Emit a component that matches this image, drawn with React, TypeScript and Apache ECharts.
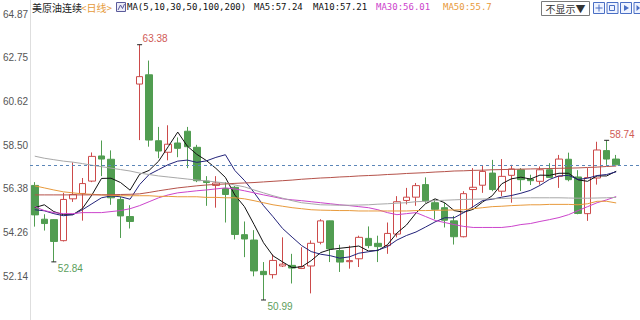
import React, { useEffect, useRef } from 'react';
import * as echarts from 'echarts';

const opens = [56.55,54.91,54.89,53.87,55.90,56.16,56.76,57.98,57.82,55.87,
55.04,61.47,61.92,58.72,58.16,58.61,59.18,58.40,56.76,56.55,
56.40,56.46,54.16,53.90,52.38,52.22,52.64,52.67,52.52,52.64,
53.79,54.83,53.39,52.85,52.99,53.98,53.74,53.63,54.19,55.82,
55.98,56.59,55.71,55.47,54.83,54.06,56.35,56.56,57.15,56.27,
57.04,57.31,56.86,56.75,57.31,56.99,57.82,56.96,55.18,56.91,
58.24,57.83];
const closes = [55.12,54.70,53.83,55.87,56.11,56.64,57.96,57.83,55.95,55.07,
54.80,61.83,58.75,58.22,58.55,58.35,58.43,56.78,56.69,56.67,
56.11,54.17,53.95,52.40,52.22,52.91,52.73,52.54,52.61,53.74,
54.83,53.47,52.83,52.90,54.03,53.63,53.58,54.22,55.76,55.98,
56.54,55.80,55.39,54.86,54.06,56.15,56.46,57.23,56.35,56.99,
57.35,56.83,56.78,57.31,56.94,57.83,56.83,55.19,56.93,58.27,
57.83,57.55];
const lows = [54.55,54.36,52.84,53.83,55.75,54.84,56.71,57.00,55.61,54.00,
54.46,58.75,58.43,57.87,57.77,57.92,57.39,56.71,55.56,55.47,
54.75,53.93,53.07,52.14,50.99,52.03,52.59,51.79,52.49,51.31,
53.69,52.83,52.35,52.51,52.59,53.50,52.83,53.23,54.03,55.63,
55.56,55.71,54.91,54.51,53.68,54.03,55.47,56.19,56.27,56.03,
55.71,56.28,56.57,56.59,56.91,56.43,56.75,55.15,54.83,56.59,
57.55,57.53];
const highs = [56.71,55.15,54.91,56.19,57.67,56.91,58.15,58.73,58.25,56.00,
55.59,63.38,62.61,59.39,59.47,58.88,59.39,58.52,57.00,57.00,
56.71,56.52,54.80,54.38,52.83,53.20,54.03,53.23,53.55,53.88,
54.91,54.84,53.67,53.63,54.11,54.56,54.11,54.75,56.03,56.43,
56.67,56.94,55.87,55.71,55.07,56.27,57.39,57.52,57.79,57.83,
57.55,57.39,57.07,57.47,57.63,58.03,58.14,57.29,57.39,58.67,
58.74,58.03];

const ma5 = [55.47,55.61,55.28,55.13,55.13,55.43,56.09,56.89,56.90,56.69,
56.32,57.09,57.28,57.73,58.43,59.14,58.46,58.06,57.76,57.38,
56.94,56.08,55.52,54.66,53.77,53.13,52.84,52.56,52.60,52.90,
53.29,53.44,53.50,53.55,53.61,53.37,53.39,53.67,54.24,54.63,
55.21,55.66,55.90,55.71,55.33,55.25,55.39,55.75,56.05,56.63,
56.87,56.95,56.86,57.05,57.04,57.14,57.14,56.82,56.75,57.01,
57.01,57.24];
const ma10 = [55.37,55.32,55.18,55.08,55.13,55.37,55.66,55.95,56.04,56.00,
55.88,56.59,57.08,57.32,57.56,57.73,57.78,57.67,57.74,57.91,
58.04,57.27,56.79,56.21,55.57,55.03,54.46,54.04,53.63,53.34,
53.21,53.14,53.02,53.08,53.26,53.33,53.41,53.58,53.90,54.12,
54.29,54.53,54.78,54.98,54.98,55.23,55.52,55.82,55.88,55.98,
56.06,56.17,56.31,56.55,56.84,57.01,57.04,56.84,56.90,57.03,
57.08,57.21];
const ma30 = [55.52,55.33,55.23,55.18,55.18,55.23,55.23,55.23,55.28,55.33,
55.42,55.57,55.76,55.95,56.09,56.19,56.24,56.29,56.33,56.38,
56.43,56.38,56.29,56.19,56.09,56.00,55.90,55.85,55.81,55.76,
55.71,55.66,55.61,55.57,55.52,55.47,55.37,55.23,55.13,55.18,
55.23,55.04,54.85,54.75,54.65,54.56,54.51,54.51,54.51,54.51,
54.56,54.65,54.70,54.80,54.89,54.99,55.13,55.33,55.52,55.71,
55.85,56.01];
const ma50 = [56.53,56.43,56.33,56.24,56.19,56.14,56.12,56.09,56.07,56.05,
56.05,56.05,56.05,56.02,56.02,56.00,56.00,56.00,55.97,55.97,
55.95,55.95,55.90,55.81,55.71,55.61,55.54,55.47,55.42,55.37,
55.35,55.34,55.33,55.33,55.31,55.31,55.31,55.31,55.31,55.31,
55.33,55.33,55.34,55.35,55.36,55.37,55.42,55.47,55.52,55.54,
55.57,55.59,55.61,55.61,55.63,55.63,55.63,55.61,55.66,55.78,
55.78,55.70];
const ma100 = [57.97,57.87,57.80,57.73,57.68,57.61,57.53,57.46,57.39,57.32,
57.25,57.15,57.08,57.01,56.96,56.91,56.86,56.81,56.77,56.72,
56.67,56.57,56.48,56.33,56.19,56.05,55.93,55.81,55.71,55.66,
55.61,55.60,55.59,55.59,55.60,55.61,55.64,55.66,55.69,55.71,
55.76,55.78,55.81,55.83,55.85,55.87,55.88,55.89,55.90,55.92,
55.93,55.94,55.95,55.95,55.95,55.95,55.94,55.93,55.93,55.94,
55.95,55.97];
const ma200 = [56.09,56.09,56.09,56.09,56.09,56.09,56.09,56.09,56.10,56.11,
56.12,56.14,56.21,56.29,56.36,56.43,56.48,56.53,56.57,56.60,
56.62,56.65,56.67,56.69,56.72,56.75,56.78,56.81,56.85,56.88,
56.91,56.93,56.96,56.98,57.01,57.03,57.05,57.08,57.10,57.13,
57.15,57.17,57.20,57.22,57.25,57.26,57.28,57.29,57.31,57.32,
57.33,57.34,57.35,57.36,57.37,57.38,57.39,57.40,57.42,57.44,
57.47,57.49];

const yTickLabels = ['52.14', '54.26', '56.38', '58.50', '60.62', '62.75', '64.87'];
const maNames = ['MA5', 'MA10', 'MA30', 'MA50', 'MA100', 'MA200'];
const maColors = ['#111111', '#23237a', '#cc44cc', '#e89a3c', '#a8a8a8', '#b5524a'];
const maSeries = [ma5, ma10, ma30, ma50, ma100, ma200];
const title = '美原油连续';
const period = '<日线>';
const maParams = 'MA(5,10,30,50,100,200)';
// [candle index, 'high' | 'low']
const annotations: [number, string][] = [[11, 'high'], [2, 'low'], [24, 'low'], [60, 'high']];

const RED = '#cc4a4a';
const GREEN = '#519d51';

function fmt(v: number) {
  return String(Number(v.toFixed(2)));
}

export default function App() {
  const ref = useRef<HTMLDivElement>(null);
  useEffect(() => {
    const chart = echarts.init(ref.current!, null, { renderer: 'svg' });
    const n = opens.length;
    const cats = Array.from({ length: n + 2 }, (_, i) => 'D' + (i + 1));
    const tickVals = yTickLabels.map((s) => parseFloat(s));
    const interval = (tickVals[tickVals.length - 1] - tickVals[0]) / (tickVals.length - 1);
    const yMin = tickVals[0] - interval;
    const yMax = 65.55;
    const kData = opens.map((o, i) => [o, closes[i], lows[i], highs[i]]);

    const markData = annotations.map(([i, kind]) => {
      const isHigh = kind === 'high';
      const v = isHigh ? highs[i] : lows[i];
      return {
        coord: [cats[i], v],
        value: v,
        label: {
          show: true,
          formatter: v.toFixed(2),
          position: 'inside',
          align: 'left',
          verticalAlign: 'middle',
          offset: isHigh ? [3, -6] : [4, 7],
          color: isHigh ? '#d05a55' : '#5c9e5c',
          fontSize: 10,
          fontFamily: 'Liberation Sans, Arial, sans-serif',
        },
      };
    });

    const mono = 'DejaVu Sans Mono, Liberation Mono, monospace';
    const headerMA = [0, 1, 2, 3].map((k) => ({
      text: maNames[k] + ':' + fmt(maSeries[k][maSeries[k].length - 1]),
      color: k < 2 ? '#111' : maColors[k],
    }));
    const headerX = [254, 313, 376, 443];

    const iconX = [593, 606.5, 620, 633.5];

    const graphic: any[] = [
      { type: 'text', x: 32, y: 7, style: { text: title, fill: '#222', font: '10px "Noto Sans CJK SC", sans-serif', verticalAlign: 'middle' } },
      { type: 'text', x: 81, y: 7, style: { text: period, fill: '#e69a3a', font: '10px "Noto Sans CJK SC", sans-serif', verticalAlign: 'middle' } },
      { type: 'rect', shape: { x: 116.5, y: 2.5, width: 9, height: 9 }, style: { fill: '#ececf8', stroke: '#5a5a9a', lineWidth: 1 } },
      { type: 'polyline', shape: { points: [[118, 10], [120.5, 5], [122.5, 8.5], [124.5, 4]] }, style: { stroke: '#5a5a9a', fill: 'none', lineWidth: 1 } },
      { type: 'text', x: 127, y: 7, style: { text: maParams, fill: '#111', font: '9px ' + mono, verticalAlign: 'middle' } },
      ...headerMA.map((h, k) => ({ type: 'text', x: headerX[k], y: 7, style: { text: h.text, fill: h.color, font: '9px ' + mono, verticalAlign: 'middle' } })),
      { type: 'rect', shape: { x: 541.5, y: 1.5, width: 48, height: 14 }, style: { fill: '#fff', stroke: '#7a7a7a', lineWidth: 1 } },
      { type: 'text', x: 565.5, y: 8.5, style: { text: '不显示▼', fill: '#333', font: '10px "Noto Sans CJK SC", sans-serif', align: 'center', verticalAlign: 'middle' } },
      ...iconX.map((x) => ({ type: 'rect', shape: { x: x + 0.5, y: 2.5, width: 11, height: 11 }, style: { fill: '#eef3ff', stroke: '#4a6fc4', lineWidth: 1 } })),
      { type: 'line', shape: { x1: 599, y1: 4.5, x2: 599, y2: 11.5 }, style: { stroke: '#4a6fc4', lineWidth: 1 } },
      { type: 'line', shape: { x1: 595.5, y1: 8, x2: 602.5, y2: 8 }, style: { stroke: '#4a6fc4', lineWidth: 1 } },
      { type: 'rect', shape: { x: 609.5, y: 5.5, width: 5, height: 5 }, style: { fill: 'none', stroke: '#4a6fc4', lineWidth: 1 } },
      { type: 'polygon', shape: { points: [[624, 5], [629, 8], [624, 11]] }, style: { fill: '#4a6fc4' } },
      { type: 'polygon', shape: { points: [[636.5, 5], [640, 8], [636.5, 11]] }, style: { fill: '#4a6fc4' } },
    ];

    const option: any = {
      animation: false,
      backgroundColor: '#ffffff',
      grid: { left: 29, right: -3, top: 0, bottom: -3.5, containLabel: false },
      xAxis: {
        type: 'category',
        data: cats,
        boundaryGap: true,
        axisLine: { show: false },
        axisTick: { show: false },
        axisLabel: { show: false },
        splitLine: { show: false },
      },
      yAxis: {
        type: 'value',
        min: yMin,
        max: yMax,
        interval,
        axisLine: { show: true, lineStyle: { color: '#dedede' } },
        axisTick: { show: false },
        splitLine: { show: false },
        axisLabel: {
          showMinLabel: false,
          showMaxLabel: false,
          align: 'left',
          margin: 27,
          color: '#555',
          fontSize: 10,
          fontFamily: 'Liberation Sans, Arial, sans-serif',
          formatter: (v: number) => {
            const k = Math.round((v - tickVals[0]) / interval);
            if (k < 0 || k >= yTickLabels.length) return '';
            if (Math.abs(v - tickVals[0] - k * interval) > interval * 0.01) return '';
            return yTickLabels[k];
          },
        },
      },
      graphic,
      series: [
        {
          type: 'candlestick',
          data: kData,
          barWidth: 7,
          itemStyle: {
            color: '#ffffff',
            color0: GREEN,
            borderColor: RED,
            borderColor0: GREEN,
            borderWidth: 1,
          },
          markLine: {
            silent: true,
            symbol: ['none', 'none'],
            label: { show: false },
            lineStyle: { color: '#5b86b8', type: [3, 3], width: 1 },
            data: [{ yAxis: closes[n - 1] }],
          },
          markPoint: {
            symbol: 'rect',
            symbolSize: [5, 1],
            itemStyle: { color: '#222' },
            data: markData,
          },
        },
        ...maSeries.map((d, k) => ({
          type: 'line',
          name: maNames[k],
          data: d,
          symbol: 'none',
          showSymbol: false,
          smooth: false,
          z: 3,
          lineStyle: { width: 1, color: maColors[k] },
        })),
      ],
    };
    chart.setOption(option);
    return () => chart.dispose();
  }, []);
  return <div ref={ref} style={{ position: 'absolute', left: 0, top: 0, width: 640, height: 320 }} />;
}
